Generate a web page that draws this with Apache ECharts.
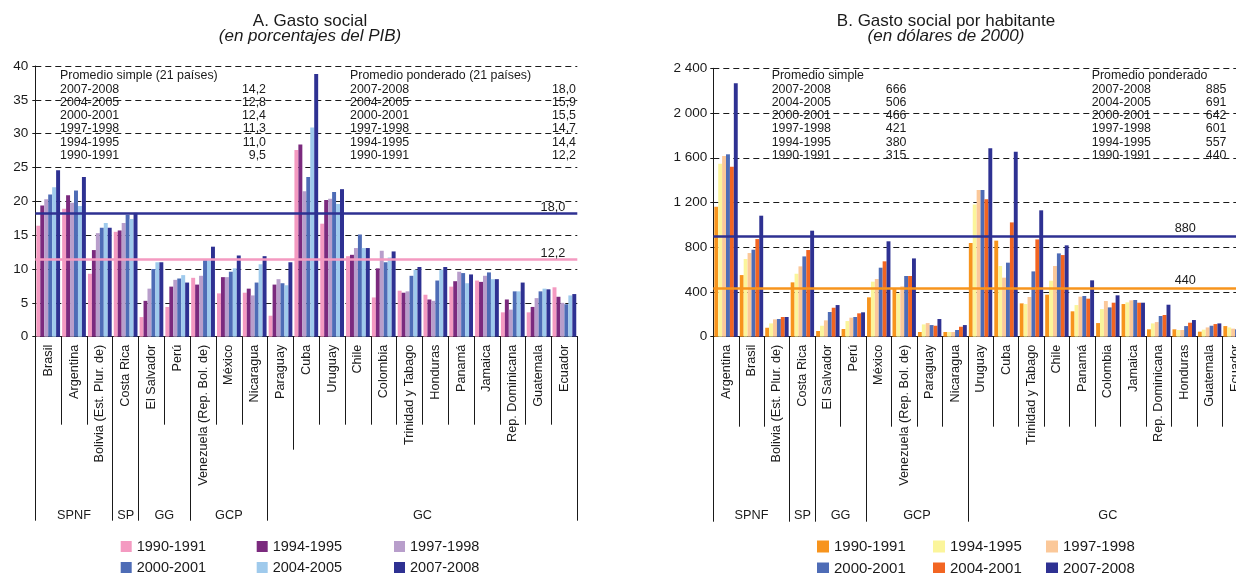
<!DOCTYPE html>
<html>
<head>
<meta charset="utf-8">
<script src="https://cdn.jsdelivr.net/npm/echarts@6/dist/echarts.min.js"></script>
<style>
  html, body { margin: 0; padding: 0; background: #fff; overflow: hidden; }
  /* a bit wider than the window: panel B is cut at the right edge, as in the original */
  #chart { width: 1252px; height: 573px; }
</style>
</head>
<body>
<div id="chart"></div>
<script>
const FONT = '"Liberation Sans", Arial, sans-serif';
const INK = '#1a1a1a';

const periodos = ['1990-1991', '1994-1995', '1997-1998', '2000-2001', '2004-2005', '2007-2008'];
const periodosB = ['1990-1991', '1994-1995', '1997-1998', '2000-2001', '2004-2001', '2007-2008'];
const periodosDesc = ['2007-2008', '2004-2005', '2000-2001', '1997-1998', '1994-1995', '1990-1991'];

// A. Gasto social (% del PIB)
const paisesA = ['Brasil', 'Argentina', 'Bolivia (Est. Plur. de)', 'Costa Rica', 'El Salvador', 'Perú',
  'Venezuela (Rep. Bol. de)', 'México', 'Nicaragua', 'Paraguay', 'Cuba', 'Uruguay', 'Chile', 'Colombia',
  'Trinidad y Tabago', 'Honduras', 'Panamá', 'Jamaica', 'Rep. Dominicana', 'Guatemala', 'Ecuador'];
const pib1990 = [16.4, 18.9, 9.3, 15.5, 2.9, 4.4, 8.7, 6.4, 6.5, 3.1, 27.6, 16.7, 11.9, 5.8, 6.8, 6.2, 7.4, 8.3, 3.6, 3.6, 7.3];
const pib1994 = [19.4, 20.9, 12.8, 15.7, 5.3, 7.4, 7.7, 8.8, 7.1, 7.7, 28.4, 20.2, 12.1, 10.1, 6.5, 5.5, 8.2, 8.1, 5.5, 4.4, 5.9];
const pib1997 = [20.3, 19.8, 15.3, 16.8, 7.1, 8.4, 9.0, 8.8, 6.1, 8.5, 21.5, 20.4, 13.1, 12.7, 6.7, 5.3, 9.6, 9.0, 4.0, 5.7, 5.0];
const pib2000 = [21.0, 21.6, 16.1, 18.0, 10.0, 8.6, 11.3, 9.6, 8.0, 7.9, 23.6, 21.4, 15.1, 11.0, 9.0, 8.3, 9.4, 9.5, 6.7, 6.7, 4.8];
const pib2004 = [22.1, 19.3, 16.8, 17.4, 11.0, 9.1, 11.3, 10.1, 10.7, 7.6, 30.9, 19.6, 13.1, 11.7, 9.9, 9.9, 7.9, 8.5, 6.7, 7.1, 6.1];
const pib2007 = [24.6, 23.6, 16.1, 18.3, 11.0, 8.0, 13.3, 12.0, 11.9, 11.0, 38.8, 21.8, 13.1, 12.6, 10.3, 10.3, 9.2, 8.5, 8.0, 7.0, 6.3];
const gruposA = [['SPNF', 0, 2], ['SP', 3, 3], ['GG', 4, 5], ['GCP', 6, 8], ['GC', 9, 20]];
const promSimpleA = ['14,2', '12,8', '12,4', '11,3', '11,0', '9,5'];
const promPondA = ['18,0', '15,9', '15,5', '14,7', '14,4', '12,2'];
const lineasA = [18.2, 11.4];
const lineasTxtA = ['18,0', '12,2'];

// B. Gasto social por habitante (dólares de 2000)
const paisesB = ['Argentina', 'Brasil', 'Bolivia (Est. Plur. de)', 'Costa Rica', 'El Salvador', 'Perú', 'México',
  'Venezuela (Rep. Bol. de)', 'Paraguay', 'Nicaragua', 'Uruguay', 'Cuba', 'Trinidad y Tabago', 'Chile', 'Panamá',
  'Colombia', 'Jamaica', 'Rep. Dominicana', 'Honduras', 'Guatemala', 'Ecuador'];
const hab1990 = [1163, 551, 80, 486, 51, 69, 352, 432, 42, 42, 838, 859, 298, 376, 227, 122, 292, 66, 66, 45, 95];
const hab1994 = [1547, 695, 119, 563, 98, 140, 492, 388, 110, 42, 1181, 632, 292, 501, 283, 247, 307, 119, 60, 63, 83];
const hab1997 = [1616, 748, 155, 629, 146, 170, 516, 450, 122, 42, 1312, 528, 355, 632, 358, 319, 325, 131, 60, 83, 72];
const hab2000 = [1631, 778, 158, 718, 221, 176, 617, 543, 104, 60, 1312, 662, 584, 745, 364, 262, 328, 185, 95, 98, 66];
const hab2004 = [1520, 873, 176, 775, 259, 209, 674, 543, 98, 89, 1228, 1022, 870, 730, 340, 304, 304, 194, 125, 113, 80];
const hab2007 = [2266, 1082, 176, 948, 283, 218, 853, 700, 158, 104, 1684, 1654, 1130, 817, 504, 370, 304, 286, 149, 119, 90];
const gruposB = [['SPNF', 0, 2], ['SP', 3, 3], ['GG', 4, 5], ['GCP', 6, 9], ['GC', 10, 20]];
const promSimpleB = ['666', '506', '466', '421', '380', '315'];
const promPondB = ['885', '691', '642', '601', '557', '440'];
const lineasB = [900, 435];
const lineasTxtB = ['880', '440'];

const coloresA = ['#f49ac1', '#7b2a7e', '#b89ecb', '#4e6cb6', '#9fcaec', '#2e3192'];
const coloresB = ['#f7941d', '#fbf59b', '#fbc899', '#4e6cb6', '#f26522', '#2e3192'];

const chart = echarts.init(document.getElementById('chart'));

const inicios = (grupos) => grupos.map(g => g[1]);

function ejeCategorias(grid, data, show, tickLen, tickInterval) {
  return {
    type: 'category', gridIndex: grid, data: data, position: 'bottom',
    axisLine: { show: show, lineStyle: { color: INK, width: 1 } },
    axisTick: { show: true, length: tickLen, interval: tickInterval, lineStyle: { color: INK, width: 1 } },
    axisLabel: {
      show: show, rotate: 90, interval: 0, margin: 8,
      fontSize: 12.7, color: INK, fontFamily: FONT
    },
    splitLine: { show: false }
  };
}

function ejeValores(grid, max, step, margin, fmt) {
  return {
    type: 'value', gridIndex: grid, min: 0, max: max, interval: step,
    axisLine: { show: true, lineStyle: { color: INK, width: 1 } },
    axisTick: { show: true, length: 3, lineStyle: { color: INK } },
    axisLabel: { fontSize: 13.5, color: INK, fontFamily: FONT, margin: margin, formatter: fmt },
    splitLine: { show: true, lineStyle: { color: INK, width: 1, type: [6, 4] } }
  };
}

function barras(nombres, valores, colores, xi, yi) {
  return nombres.map((n, k) => ({
    name: n, type: 'bar', xAxisIndex: xi, yAxisIndex: yi,
    data: valores[k], barGap: '0%', barCategoryGap: '8%',
    itemStyle: { color: colores[k] }, silent: true
  }));
}

function lineaMedia(valores, textos, colores, dist) {
  return {
    silent: true, symbol: ['none', 'none'],
    data: valores.map((v, k) => ({
      yAxis: v,
      lineStyle: { color: colores[k], width: 2.5, type: 'solid' },
      label: {
        show: true, position: 'insideEndTop', distance: dist, formatter: textos[k],
        color: INK, fontSize: 12.7, fontFamily: FONT
      }
    }))
  };
}

function leyendas(nombres, colores, xs, ys, size, fontSize) {
  return nombres.map((n, k) => ({
    left: xs[k % 3] - 5, top: ys[Math.floor(k / 3)] - 5,
    selectedMode: false, icon: 'rect', itemWidth: size, itemHeight: size,
    data: [{ name: n, itemStyle: { color: colores[k] } }],
    textStyle: { fontSize: fontSize, color: INK, fontFamily: FONT }
  }));
}

function titulo(texto, cx, top, italic) {
  return {
    text: texto, left: cx - 5, top: top, textAlign: 'center',
    textStyle: { fontSize: 17, fontWeight: 'normal', fontStyle: italic ? 'italic' : 'normal', color: INK, fontFamily: FONT }
  };
}

const seriesA = barras(periodos, [pib1990, pib1994, pib1997, pib2000, pib2004, pib2007], coloresA, 0, 0);
seriesA[5].markLine = lineaMedia(lineasA, lineasTxtA, [coloresA[5], coloresA[0]], [12, 0]);
const seriesB = barras(periodosB, [hab1990, hab1994, hab1997, hab2000, hab2004, hab2007], coloresB, 3, 1);
seriesB[5].markLine = lineaMedia(lineasB, lineasTxtB, [coloresB[5], coloresB[0]], [52, 1]);

const espacios = v => v >= 1000 ? String(v).replace(/(\d)(\d{3})$/, '$1 $2') : String(v);

chart.setOption({
  animation: false,
  textStyle: { fontFamily: FONT },
  title: [
    titulo('A. Gasto social', 310, 7.5, false),
    titulo('(en porcentajes del PIB)', 310, 22.5, true),
    titulo('B. Gasto social por habitante', 946, 7.5, false),
    titulo('(en dólares de 2000)', 946, 22.5, true)
  ],
  legend: [
    ...leyendas(periodos, coloresA, [120.7, 256.7, 394], [539, 560], 11, 14.5),
    ...leyendas(periodosB, coloresB, [817, 933, 1046], [539, 561], 12, 15)
  ],
  grid: [
    { left: 35.3, top: 66, width: 542, height: 270.7 },
    { left: 713.3, top: 68.3, width: 534.5, height: 268.4 }
  ],
  xAxis: [
    ejeCategorias(0, paisesA, true, 88, 0),
    ejeCategorias(0, paisesA, false, 184, i => inicios(gruposA).includes(i)),
    ejeCategorias(0, paisesA, false, 113, i => i === 9 || i === 10),
    ejeCategorias(1, paisesB, true, 90, 0),
    ejeCategorias(1, paisesB, false, 185, i => inicios(gruposB).includes(i))
  ],
  yAxis: [
    ejeValores(0, 40, 5, 7, v => String(v)),
    ejeValores(1, 2400, 400, 6, espacios)
  ],
  series: [...seriesA, ...seriesB]
});

// textos fijos: promedios y nombres de grupos
const filasY = [76, 89.5, 102.6, 115.7, 128.9, 142.1, 155.3];
const fuente = '12.4px ' + FONT;
function texto(t, x, y, align) {
  return { type: 'text', silent: true, style: { text: t, x: x, y: y, font: fuente, fill: INK, align: align || 'left', verticalAlign: 'middle' } };
}
function bloque(titulo, x, xVal, valores) {
  const out = [texto(titulo, x, filasY[0])];
  periodosDesc.forEach((p, k) => {
    out.push(texto(p, x, filasY[k + 1]));
    out.push(texto(valores[k], xVal, filasY[k + 1], 'right'));
  });
  return out;
}
function etiquetasGrupo(grupos, xi) {
  return grupos.map(g => {
    const a = chart.convertToPixel({ xAxisIndex: xi }, g[1]);
    const b = chart.convertToPixel({ xAxisIndex: xi }, g[2]);
    return { type: 'text', silent: true, style: { text: g[0], x: (a + b) / 2, y: 515, font: '12.7px ' + FONT, fill: INK, align: 'center', verticalAlign: 'middle' } };
  });
}

chart.setOption({
  graphic: [
    ...bloque('Promedio simple (21 países)', 60, 266, promSimpleA),
    ...bloque('Promedio ponderado (21 países)', 350, 576, promPondA),
    ...bloque('Promedio simple', 771.7, 906.5, promSimpleB),
    ...bloque('Promedio ponderado', 1091.7, 1226.5, promPondB),
    ...etiquetasGrupo(gruposA, 0),
    ...etiquetasGrupo(gruposB, 3)
  ]
});
</script>
</body>
</html>
